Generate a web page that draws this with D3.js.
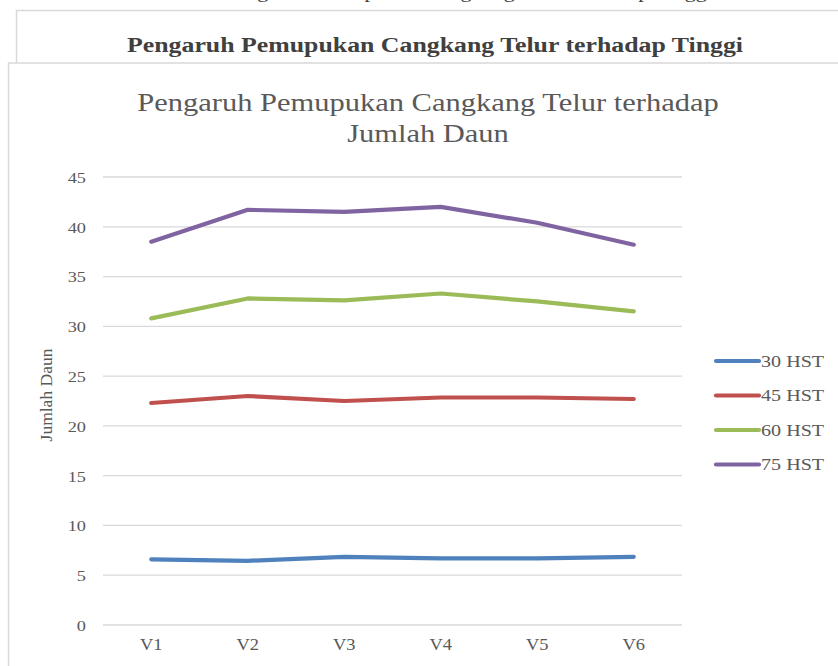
<!DOCTYPE html>
<html><head><meta charset="utf-8">
<script src="https://cdn.jsdelivr.net/npm/d3@7"></script>
<style>body{margin:0;background:#fff;}svg{display:block;}</style>
</head><body>
<svg id="c" width="838" height="666"></svg>
<script>
const categories = ["V1","V2","V3","V4","V5","V6"];
const seriesNames = ["30 HST","45 HST","60 HST","75 HST"];
const hst30 = [6.6, 6.45, 6.85, 6.7, 6.7, 6.85];
const hst45 = [22.3, 23.0, 22.5, 22.85, 22.85, 22.7];
const hst60 = [30.8, 32.8, 32.6, 33.3, 32.5, 31.5];
const hst75 = [38.5, 41.7, 41.5, 42.0, 40.4, 38.2];
const yTicks = [0,5,10,15,20,25,30,35,40,45];
const colors = ["#4F81BD","#C0504D","#9BBB59","#8064A2"];
const chartTitle = ["Pengaruh Pemupukan Cangkang Telur terhadap","Jumlah Daun"];
const upperTitle = "Pengaruh Pemupukan Cangkang Telur terhadap Tinggi";
const caption = "Gambar 1. Grafik Pengaruh Pemupukan Cangkang Telur terhadap Tinggi Tanaman";
const yLabel = "Jumlah Daun";

const series = [hst30, hst45, hst60, hst75];
const svg = d3.select("#c");
const serif = "'Liberation Serif','Times New Roman',serif";
const SX = 1.22;

// cut-off caption at top (only descenders visible, as in the reference)
svg.append("text").attr("transform",`translate(430,-2) scale(1.24,1)`).attr("text-anchor","middle")
  .attr("font-family",serif).attr("font-size",18).attr("fill","#404040")
  .text(caption);

// upper chart box
svg.append("rect").attr("x",16.5).attr("y",10.5).attr("width",900).attr("height",100)
  .attr("fill","#fff").attr("stroke","#d9d9d9").attr("stroke-width",1.5);
svg.append("text").attr("transform",`translate(435,52) scale(1.26,1)`).attr("text-anchor","middle")
  .attr("font-family",serif).attr("font-weight","bold").attr("font-size",20.5).attr("fill","#404040")
  .text(upperTitle);

// main chart box
svg.append("rect").attr("x",8.5).attr("y",63).attr("width",900).attr("height",700)
  .attr("fill","#fff").attr("stroke","#d9d9d9").attr("stroke-width",1.5);

// title
svg.append("g").selectAll("text").data(chartTitle).join("text")
  .attr("transform",(d,i)=>`translate(428,${111+i*31}) scale(${SX},1)`)
  .attr("text-anchor","middle").attr("font-family",serif)
  .attr("font-size",25).attr("fill","#595959").text(d=>d);

const x = d3.scaleBand().domain(categories).range([103,682]);
const y = d3.scaleLinear().domain([0,45]).range([625,177]);

// gridlines
svg.append("g").selectAll("line").data(yTicks).join("line")
  .attr("x1",103).attr("x2",682).attr("y1",d=>y(d)).attr("y2",d=>y(d))
  .attr("stroke","#d9d9d9").attr("stroke-width",1.3);

// y axis
const yAxis = svg.append("g").attr("transform","translate(86,0)")
  .call(d3.axisLeft(y).tickValues(yTicks).tickSize(0).tickPadding(0));
yAxis.select(".domain").remove();
yAxis.selectAll("text").attr("font-family",serif).attr("font-size",15.5).attr("fill","#595959")
  .attr("dy","0.35em").attr("transform",`scale(1.18,1)`);

// x axis
const xAxis = svg.append("g").attr("transform","translate(0,625)")
  .call(d3.axisBottom(x).tickSize(0).tickPadding(0));
xAxis.select(".domain").remove();
xAxis.selectAll("text").attr("font-family",serif).attr("font-size",16).attr("fill","#595959")
  .attr("dy","1.55em").attr("transform",`scale(1.15,1)`);

// y label
svg.append("text").attr("transform","translate(52,395) rotate(-90)").attr("text-anchor","middle")
  .attr("font-family",serif).attr("font-size",17.5).attr("fill","#595959").text(yLabel);

// lines
const line = d3.line().x((d,i)=>x(categories[i])+x.bandwidth()/2).y(d=>y(d));
svg.append("g").selectAll("path").data(series).join("path")
  .attr("d",d=>line(d)).attr("fill","none").attr("stroke",(d,i)=>colors[i])
  .attr("stroke-width",4.2).attr("stroke-linecap","round").attr("stroke-linejoin","round");

// legend
const lg = svg.append("g").selectAll("g").data(seriesNames).join("g")
  .attr("transform",(d,i)=>`translate(0,${361+i*34.5})`);
lg.append("line").attr("x1",716).attr("x2",759).attr("y1",0).attr("y2",0)
  .attr("stroke",(d,i)=>colors[i]).attr("stroke-width",4.2).attr("stroke-linecap","round");
lg.append("text").attr("transform",`translate(761,0) scale(${SX},1)`).attr("dy","0.35em")
  .attr("font-family",serif).attr("font-size",16.5).attr("fill","#595959").text(d=>d);
</script>
</body></html>
